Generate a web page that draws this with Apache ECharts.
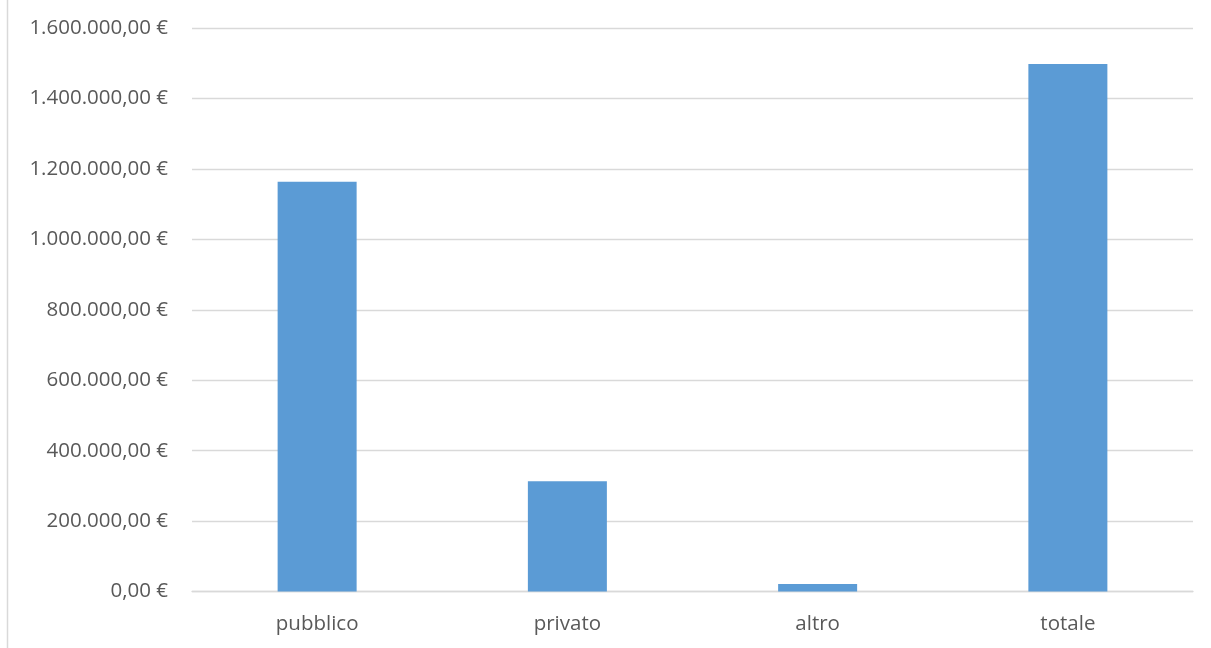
<!DOCTYPE html>
<html>
<head>
<meta charset="utf-8">
<script src="https://cdn.jsdelivr.net/npm/echarts@6/dist/echarts.min.js"></script>
<style>
html,body{margin:0;padding:0;background:#fff;}
#chart{width:1211px;height:648px;}
</style>
</head>
<body>
<div id="chart"></div>
<script>
const categories = ['pubblico', 'privato', 'altro', 'totale'];
const values = [1163500, 313000, 21500, 1498000];
const yMin = 0, yMax = 1600000, yStep = 200000;

function fmtEuro(v) {
  const parts = Math.round(v).toString().replace(/\B(?=(\d{3})+(?!\d))/g, '.');
  return parts + ',00 €';
}

const chart = echarts.init(document.getElementById('chart'), null, {renderer: 'canvas'});
chart.setOption({
  backgroundColor: '#ffffff',
  animation: false,
  grid: {left: 192, right: 18, top: 28, bottom: 56.4, containLabel: false},
  graphic: [{
    type: 'line', shape: {x1: 7.5, y1: 0, x2: 7.5, y2: 648},
    style: {stroke: '#D9D9D9', lineWidth: 1.5}
  }],
  xAxis: {
    type: 'category',
    data: categories,
    axisLine: {show: true, lineStyle: {color: '#D9D9D9', width: 1.3}},
    axisTick: {show: false},
    axisLabel: {color: '#595959', fontFamily: 'Open Sans', fontSize: 20.5, margin: 22}
  },
  yAxis: {
    type: 'value',
    min: yMin, max: yMax, interval: yStep,
    axisLine: {show: false},
    axisTick: {show: false},
    splitLine: {lineStyle: {color: '#D9D9D9', width: 1.3}},
    axisLabel: {color: '#595959', fontFamily: 'Open Sans', fontSize: 20.5, margin: 24, formatter: fmtEuro}
  },
  series: [{
    type: 'bar',
    data: values,
    barWidth: 79,
    itemStyle: {color: '#5B9BD5'}
  }]
});
</script>
</body>
</html>
